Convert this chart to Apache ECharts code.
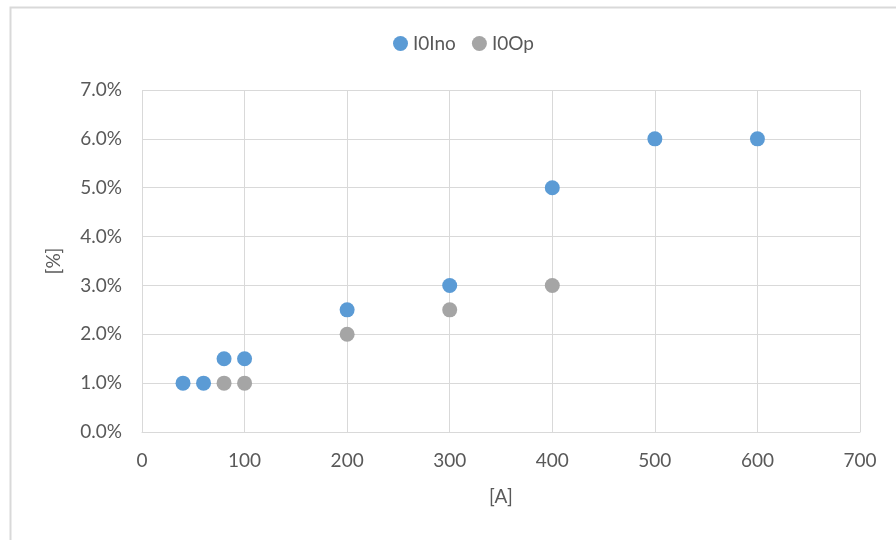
<!DOCTYPE html>
<html><head><meta charset="utf-8">
<script src="https://cdn.jsdelivr.net/npm/echarts@6/dist/echarts.min.js"></script>
<style>html,body{margin:0;padding:0;background:#fff}#c{width:896px;height:540px}</style>
</head><body><div id="c"></div>
<script>
const seriesNames = ['I0Ino', 'I0Op'];
const inoX = [40, 60, 80, 100, 200, 300, 400, 500, 600];
const inoY = [1.0, 1.0, 1.5, 1.5, 2.5, 3.0, 5.0, 6.0, 6.0];
const opX = [80, 100, 200, 300, 400];
const opY = [1.0, 1.0, 2.0, 2.5, 3.0];
const colors = ['#5b9bd5', '#a5a5a5'];
const font = 'Lato, "Open Sans", sans-serif';
const chart = echarts.init(document.getElementById('c'), null, {renderer: 'canvas'});
chart.setOption({
  animation: false,
  textStyle: {fontFamily: font},
  graphic: [{type: 'rect', left: 8, top: 5, shape: {width: 1000, height: 1000}, style: {fill: 'none', stroke: '#d9d9d9', lineWidth: 2}, z: -1}],
  legend: {top: 29, left: 388, itemWidth: 15, itemHeight: 15, itemGap: 16,
    textStyle: {fontSize: 19, color: '#595959', fontFamily: font},
    data: seriesNames.map(n => ({name: n, icon: 'circle'}))},
  grid: {left: 142, right: 36, top: 90, bottom: 108},
  xAxis: {type: 'value', min: 0, max: 700, interval: 100,
    name: '[A]', nameLocation: 'middle', nameGap: 55, nameTextStyle: {fontSize: 19, color: '#595959'},
    axisLine: {show: true, lineStyle: {color: '#d9d9d9'}}, axisTick: {show: false},
    axisLabel: {fontSize: 19, color: '#595959', margin: 19},
    splitLine: {show: true, lineStyle: {color: '#d9d9d9'}}},
  yAxis: {type: 'value', min: 0, max: 7, interval: 1,
    name: '[%]', nameLocation: 'middle', nameRotate: 90, nameGap: 79, nameTextStyle: {fontSize: 19, color: '#595959'},
    axisLine: {show: false}, axisTick: {show: false},
    axisLabel: {fontSize: 19, color: '#595959', margin: 20, formatter: v => v.toFixed(1) + '%'},
    splitLine: {show: true, lineStyle: {color: '#d9d9d9'}}},
  series: [
    {name: seriesNames[0], type: 'scatter', symbolSize: 15, itemStyle: {color: colors[0], opacity: 1},
     data: inoX.map((x, i) => [x, inoY[i]])},
    {name: seriesNames[1], type: 'scatter', symbolSize: 15, itemStyle: {color: colors[1], opacity: 1},
     data: opX.map((x, i) => [x, opY[i]])}
  ]
});
</script></body></html>
